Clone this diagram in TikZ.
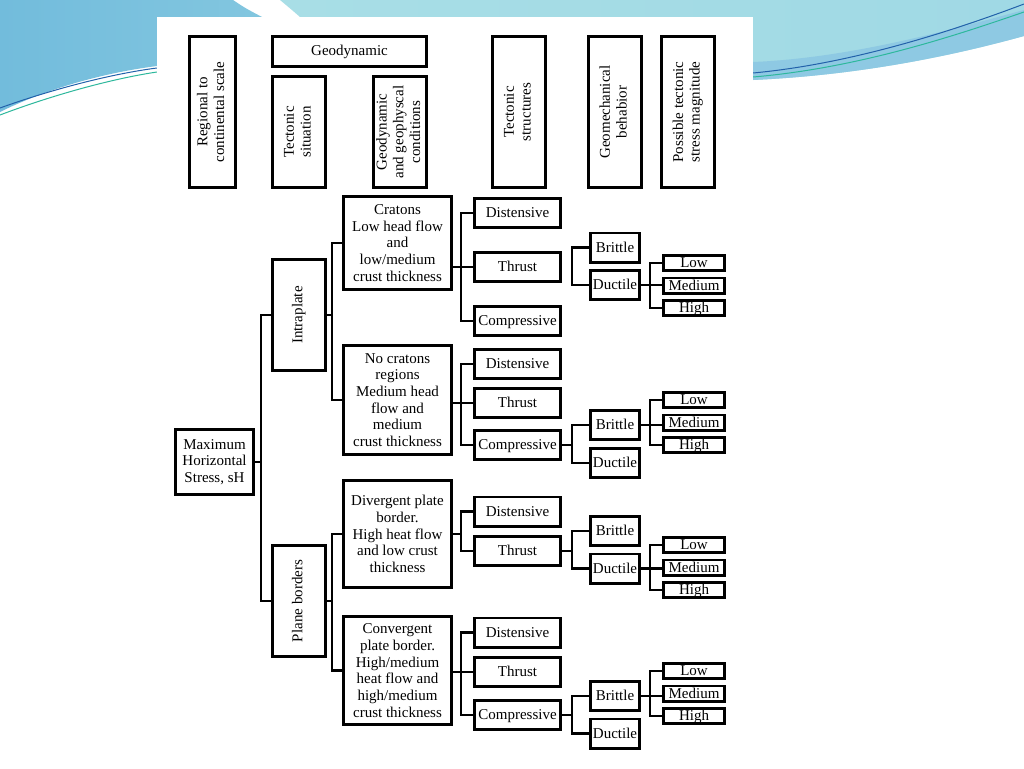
\documentclass[tikz,border=0pt]{standalone}
\usepackage{fontspec}
\setmainfont{Liberation Serif}
\usepackage{graphicx}
\newcommand{\vtext}[1]{\rotatebox{90}{\begin{tabular}{@{}c@{}}#1\end{tabular}}}
\definecolor{slideblue}{HTML}{72BCDC}
\definecolor{slidecyan}{HTML}{A8DEE6}
\definecolor{swooshdark}{HTML}{2261AA}
\definecolor{swooshteal}{HTML}{2DB89C}
\begin{document}
\begin{tikzpicture}[x=1pt,y=-1pt,font=\fontsize{15}{16.7}\selectfont,
	box/.style={draw,line width=2.9pt,fill=white,inner sep=0pt,align=center},
	hd/.style={box,minimum width=53.1,minimum height=151.1},
	cond/.style={box,minimum width=108.1},
	one/.style={box,text height=11.5pt,text depth=2pt},
	st/.style={one,minimum width=86.1,minimum height=29.1},
	bh/.style={one,minimum width=49.1,minimum height=29.1},
	mg/.style={one,minimum width=61.1,minimum height=15.1},
	link/.style={line width=2.2pt}]
	\useasboundingbox (0,0) rectangle (1024,768);
	%slide background
	\fill[white] (0,0) rectangle (1024,768);
	\shade[left color=slideblue,right color=slideblue!70!slidecyan] (0,0) -- (233,0) .. controls (245,8) .. (262,17) -- (157,17) -- (157,66) .. controls (95,74) and (40,92) .. (0,112) -- cycle;
	\draw[swooshdark,line width=1pt] (0,108) .. controls (50,90) and (110,74) .. (157,68);
	\draw[swooshteal,line width=1pt] (0,115) .. controls (50,96) and (110,79) .. (157,72);
	\shade[left color=slidecyan,right color=slidecyan!85!slideblue] (280,0) -- (1024,0) -- (1024,36) .. controls (930,62) and (840,76) .. (753,80) -- (753,17) -- (300,17) .. controls (292,10) .. (280,0) -- cycle;
	\fill[slideblue!80] (753,62) .. controls (850,58) and (950,30) .. (1024,10) -- (1024,36) .. controls (930,62) and (840,76) .. (753,80) -- cycle;
	\draw[swooshdark,line width=1pt] (753,73) .. controls (850,64) and (950,32) .. (1024,4);
	\draw[swooshteal,line width=1pt] (753,77) .. controls (860,68) and (960,34) .. (1024,12);
	\fill[white] (157,17) rectangle (753,765);
	%headers
	\node[box,minimum width=46.1,minimum height=151.1] (reg) at (212.5,112) {\vtext{Regional to\\continental scale}};
	\node[box,minimum width=154.1,minimum height=30.1] (geo) at (349.5,51.5) {Geodynamic};
	\node[hd,minimum height=111.1] (sit) at (299,132) {\vtext{Tectonic\\situation}};
	\node[hd,minimum height=111.1] (cnd) at (400,132) {\vtext{Geodynamic\\and geophyscal\\conditions}};
	\node[hd] (str) at (519,112) {\vtext{Tectonic\\structures}};
	\node[hd] (beh) at (615,112) {\vtext{Geomechanical\\behabior}};
	\node[hd] (mag) at (688,112) {\vtext{Possible tectonic\\stress magnitude}};
	%tree
	\node[box,minimum width=78.1,minimum height=65.1] (msh) at (214.5,462) {Maximum\\Horizontal\\Stress, sH};
	\node[hd,minimum height=111.1] (intra) at (299,315) {\vtext{Intraplate}};
	\node[hd,minimum height=111.1] (plate) at (299,601) {\vtext{Plane borders}};
	\node[cond,minimum height=93.1] (crat) at (397.5,243) {Cratons\\Low head flow\\and\\low/medium\\crust thickness};
	\node[cond,minimum height=109.1] (nocr) at (397.5,400) {No cratons\\regions\\Medium head\\flow and\\medium\\crust thickness};
	\node[cond,minimum height=107.1] (div) at (397.5,534) {Divergent plate\\border.\\High heat flow\\and low crust\\thickness};
	\node[cond,minimum height=108.1] (conv) at (397.5,670.5) {Convergent\\plate border.\\High/medium\\heat flow and\\high/medium\\crust thickness};
	\node[st] (dis1) at (517.5,213) {Distensive};
	\node[st] (thr1) at (517.5,267) {Thrust};
	\node[st] (com1) at (517.5,321) {Compressive};
	\node[st] (dis2) at (517.5,364) {Distensive};
	\node[st] (thr2) at (517.5,403) {Thrust};
	\node[st] (com2) at (517.5,445) {Compressive};
	\node[st] (dis3) at (517.5,511.5) {Distensive};
	\node[st] (thr3) at (517.5,551) {Thrust};
	\node[st] (dis4) at (517.5,632.5) {Distensive};
	\node[st] (thr4) at (517.5,672) {Thrust};
	\node[st] (com4) at (517.5,715) {Compressive};
	\node[bh] (bri1) at (615,247.5) {Brittle};
	\node[bh] (duc1) at (615,285) {Ductile};
	\node[bh] (bri2) at (615,425) {Brittle};
	\node[bh] (duc2) at (615,463) {Ductile};
	\node[bh] (bri3) at (615,531) {Brittle};
	\node[bh] (duc3) at (615,568.5) {Ductile};
	\node[bh] (bri4) at (615,696) {Brittle};
	\node[bh] (duc4) at (615,733.5) {Ductile};
	\foreach \g/\y in {1/285.5,2/422.5,3/567.5,4/693.5}{
		\node[mg] (low\g) at (694,\y-22.5) {Low};
		\node[mg] (med\g) at (694,\y) {Medium};
		\node[mg] (high\g) at (694,\y+22.5) {High};
		\draw[link] (low\g.west) -- ++(-12,0) |- (high\g.west);
	}
	%connectors
	\draw[link] (intra.west) -- ++(-10,0) coordinate (s0) |- (plate.west);
	\draw[link] (msh.east) -- (msh.east -| s0);
	\draw[link] (crat.west) -- ++(-10,0) coordinate (s1) |- (nocr.west);
	\draw[link] (intra.east) -- (intra.east -| s1);
	\draw[link] (div.west) -- ++(-10,0) coordinate (s2) |- (conv.west);
	\draw[link] (plate.east) -- (plate.east -| s2);
	\draw[link] (dis1.west) -- ++(-12,0) |- (com1.west);
	\draw[link] (thr1.west) -- (thr1.west -| crat.east);
	\draw[link] (dis2.west) -- ++(-12,0) |- (com2.west);
	\draw[link] (thr2.west) -- (thr2.west -| nocr.east);
	\draw[link] (dis3.west) -- ++(-12,0) coordinate (t3) |- (thr3.west);
	\draw[link] (div.east) -- (div.east -| t3);
	\draw[link] (dis4.west) -- ++(-12,0) |- (com4.west);
	\draw[link] (thr4.west) -- (thr4.west -| conv.east);
	\draw[link] (bri1.west) -- ++(-17,0) |- (duc1.west);
	\draw[link] (bri2.west) -- ++(-17,0) coordinate (b2) |- (duc2.west);
	\draw[link] (com2.east) -- (com2.east -| b2);
	\draw[link] (bri3.west) -- ++(-17,0) coordinate (b3) |- (duc3.west);
	\draw[link] (thr3.east) -- (thr3.east -| b3);
	\draw[link] (bri4.west) -- ++(-17,0) coordinate (b4) |- (duc4.west);
	\draw[link] (com4.east) -- (com4.east -| b4);
	\draw[link] (duc1.east) -- (duc1.east -| med1.west);
	\draw[link] (bri2.east) -- (bri2.east -| med2.west);
	\draw[link] (duc3.east) -- (duc3.east -| med3.west);
	\draw[link] (bri4.east) -- (bri4.east -| med4.west);
\end{tikzpicture}
\end{document}
